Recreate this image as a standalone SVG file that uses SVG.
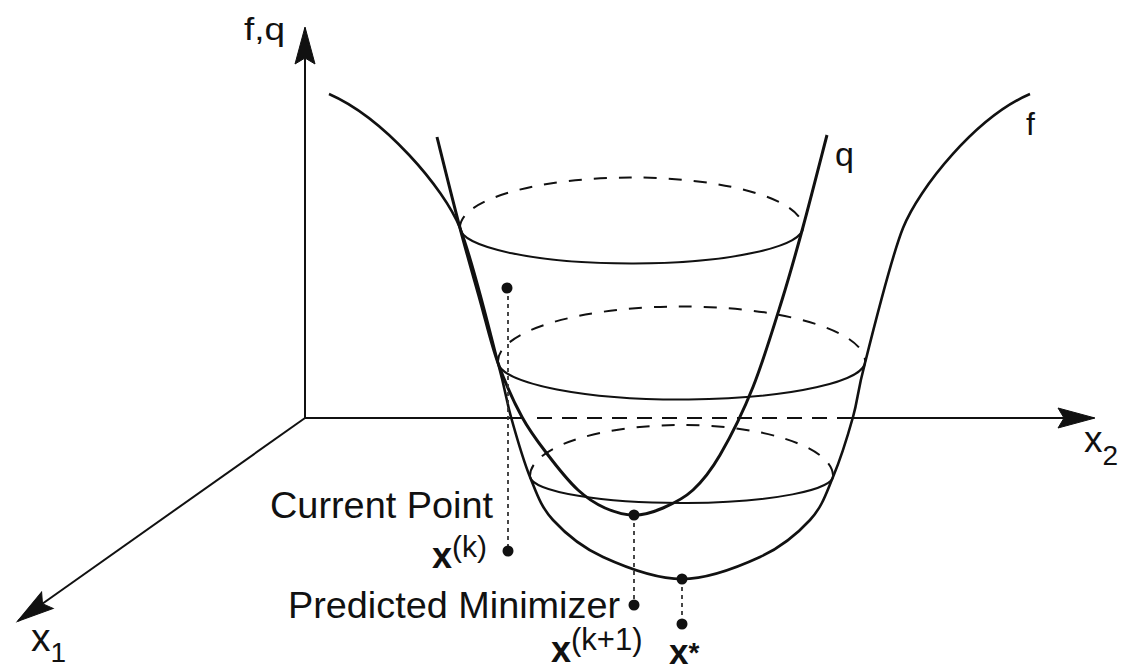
<svg xmlns="http://www.w3.org/2000/svg" width="1123" height="670" viewBox="0 0 1123 670">
<style>
.ax{fill:none;stroke:#111;stroke-width:2}
.axd{fill:none;stroke:#111;stroke-width:2;stroke-dasharray:15 10}
.cf{fill:none;stroke:#111;stroke-width:2.6}
.cq{fill:none;stroke:#111;stroke-width:3}
.lv{fill:none;stroke:#111;stroke-width:2}
.lvd{fill:none;stroke:#111;stroke-width:2;stroke-dasharray:13 12}
.dot{fill:#111}
.vd{fill:none;stroke:#333;stroke-width:1.8;stroke-dasharray:4 4}
text{font-family:"Liberation Sans",Arial,sans-serif;fill:#111}
.b{font-weight:bold}
</style>
<defs>
<marker id="ah" markerUnits="userSpaceOnUse" markerWidth="42" markerHeight="26" viewBox="-39 -13 42 26" refX="0" refY="0" orient="auto">
<path d="M1,0 L-36,-10 L-30,0 L-36,10 Z" fill="#111" stroke="#111" stroke-width="1" stroke-linejoin="miter"/>
</marker>
</defs>
<g id="axes">
<line class="ax" x1="305" y1="418" x2="305" y2="28" marker-end="url(#ah)"/>
<line class="ax" x1="305" y1="418" x2="522" y2="418"/>
<line class="axd" x1="537" y1="418" x2="853" y2="418"/>
<line class="ax" x1="853" y1="418" x2="1094" y2="418" marker-end="url(#ah)"/>
<line class="ax" x1="305" y1="418" x2="18" y2="621" marker-end="url(#ah)"/>
</g>
<g id="levels">
<path class="lv" d="M460,228 A171.5,36 0 0 0 803,227"/>
<path class="lvd" d="M460,228 A171.5,50 0 0 1 803,227"/>
<path class="lv" d="M498,363 A183.5,38 0 0 0 865,360"/>
<path class="lvd" d="M498,363 A183.5,55 0 0 1 865,360"/>
<path class="lv" d="M530,477 A151.5,27 0 0 0 833,475"/>
<path class="lvd" d="M530,477 A151.5,51 0 0 1 833,475"/>
</g>
<g id="curve-f">
<path class="cf" d="M329,94 C384,118 444,188 460,228 C470,253 488,323 498,363 C506.5,394.5 505.7,398 511,417 C516.3,436 523,459.8 530,477 C537,494.2 540.8,506.7 553,520 C565.2,533.3 581.5,547.2 603,557 C624.5,566.8 655.8,579 682,579 C708.2,579 738.7,566.8 760,557 C781.3,547.2 797.8,533.3 810,520 C822.2,506.7 825.8,494.2 833,477 C840.2,459.8 847.7,436 853,417 C858.3,398 856.7,394.5 865,363 C875,323 893,253 903,228 C919,188 976,117 1030,94"/>
</g>
<g id="curve-q">
<path class="cq" d="M437,137 C440.8,152.2 452.8,200.8 460,228 C467.2,255.2 473.7,277.5 480,300 C486.3,322.5 491,343.5 498,363 C505,382.5 513.7,401.7 522,417 C530.3,432.3 538.7,442.8 548,455 C557.3,467.2 568.5,481.2 578,490 C587.5,498.8 595.7,503.8 605,508 C614.3,512.2 624.3,515 634,515 C643.7,515 653.2,512.2 663,508 C672.8,503.8 683.5,498.8 693,490 C702.5,481.2 710,472.2 720,455 C730,437.8 742.7,412.8 753,387 C763.3,361.2 773.7,326.7 782,300 C790.3,273.3 795.5,254.5 803,227 C810.5,199.5 823,150.3 827,135"/>
</g>
<g id="points">
<line class="vd" x1="508" y1="288" x2="508" y2="551"/>
<line class="vd" x1="634" y1="515" x2="634" y2="605"/>
<line class="vd" x1="682" y1="579" x2="682" y2="624"/>
<circle class="dot" cx="507" cy="288" r="5.5"/>
<circle class="dot" cx="508" cy="551" r="5.5"/>
<circle class="dot" cx="634" cy="515" r="5.5"/>
<circle class="dot" cx="634" cy="605" r="5.5"/>
<circle class="dot" cx="682" cy="579" r="5.5"/>
<circle class="dot" cx="682" cy="624" r="5.5"/>
</g>
<g id="labels">
<text x="244" y="40" font-size="32" textLength="41" lengthAdjust="spacingAndGlyphs">f,q</text>
<text x="1026" y="135" font-size="32">f</text>
<text x="835" y="166" font-size="34">q</text>
<text x="1084" y="452" font-size="37">x<tspan font-size="28" y="465">2</tspan></text>
<text x="31" y="651" font-size="39">x<tspan font-size="28" y="662">1</tspan></text>
<text x="270" y="518" font-size="36" textLength="223" lengthAdjust="spacingAndGlyphs">Current Point</text>
<text x="288" y="618" font-size="36" textLength="332" lengthAdjust="spacingAndGlyphs">Predicted Minimizer</text>
<text x="432" y="568" font-size="36" class="b">x<tspan font-size="30" font-weight="normal" y="557">(k)</tspan></text>
<text x="551" y="662" font-size="36" class="b">x<tspan font-size="31" font-weight="normal" y="650">(k+1)</tspan></text>
<text x="669" y="664" font-size="35" class="b">x<tspan font-size="28" y="662">*</tspan></text>
</g>
</svg>
